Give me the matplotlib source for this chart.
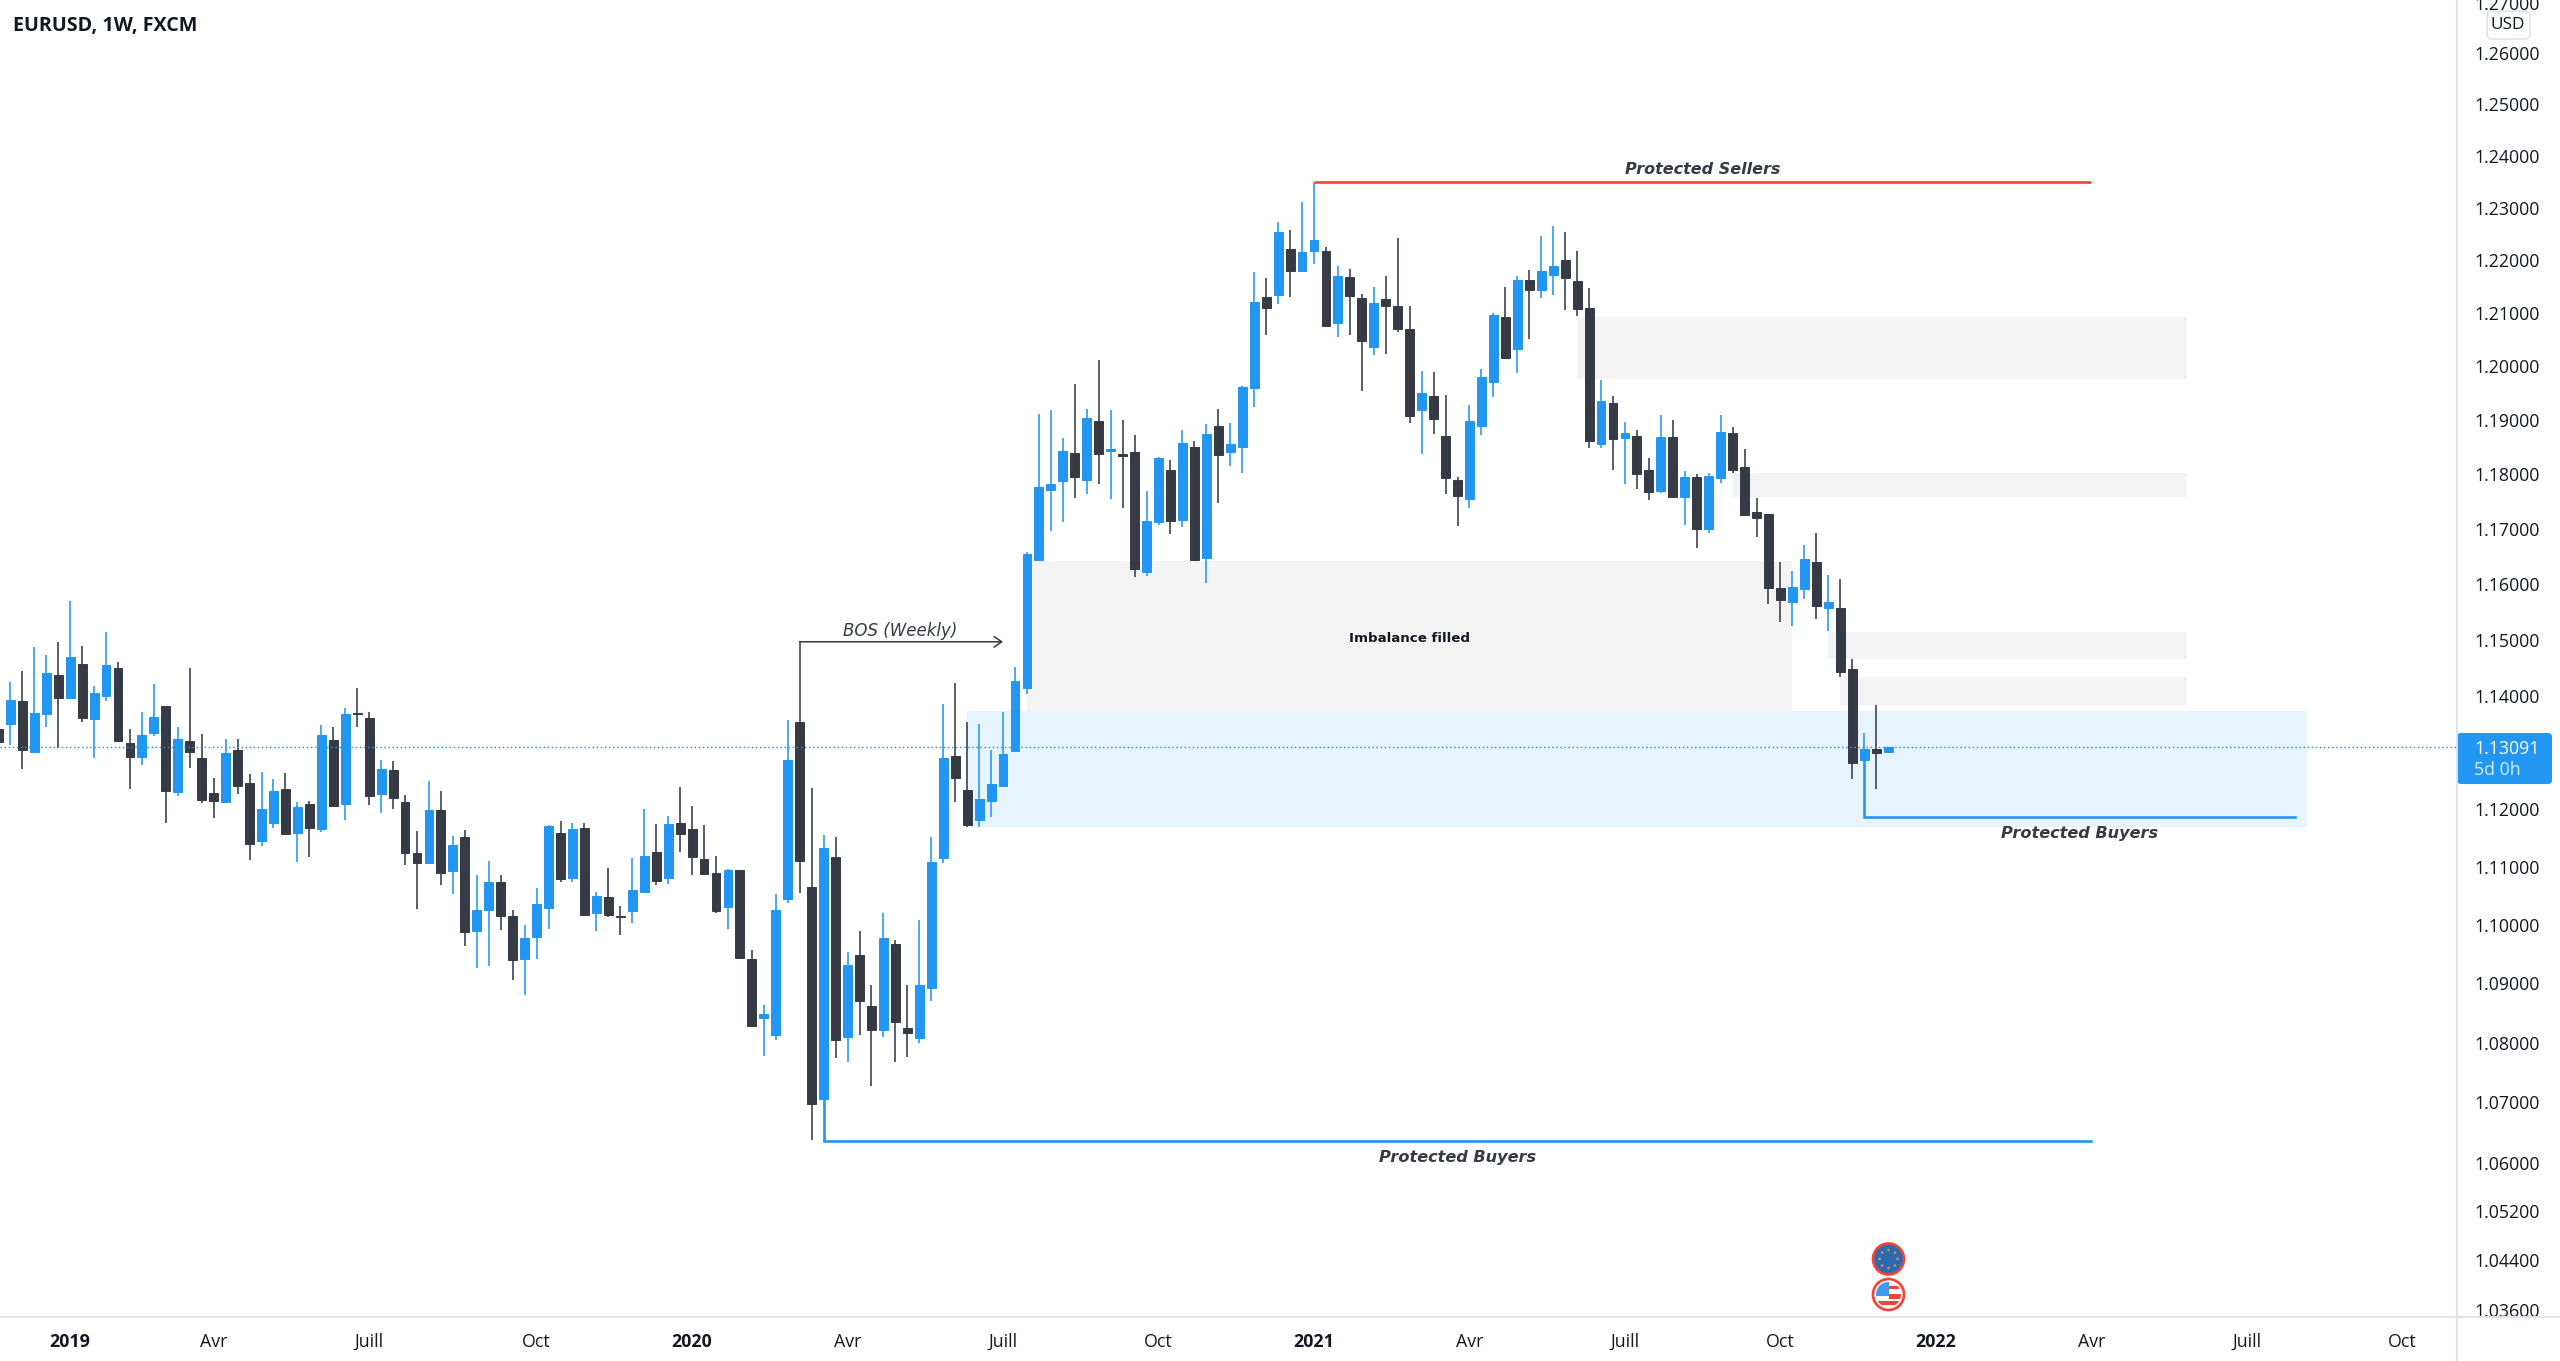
import matplotlib
matplotlib.use("Agg")
import matplotlib.pyplot as plt
from matplotlib.patches import Circle, FancyBboxPatch, Rectangle
from matplotlib.ticker import NullLocator

# ---------- Weekly EURUSD candles, one value per week (index 0 to 158) ----------
highs = [
    1.1350, 1.1424, 1.1443, 1.1487, 1.1473, 1.1496, 1.1570, 1.1489, 1.1417, 1.1513,
    1.1460, 1.1341, 1.1371, 1.1420, 1.1382, 1.1344, 1.1449, 1.1332, 1.1255, 1.1324,
    1.1324, 1.1262, 1.1265, 1.1253, 1.1263, 1.1212, 1.1215, 1.1348, 1.1344, 1.1378,
    1.1413, 1.1371, 1.1286, 1.1285, 1.1225, 1.1162, 1.1249, 1.1231, 1.1153, 1.1163,
    1.1085, 1.1110, 1.1086, 1.1025, 1.0999, 1.1063, 1.1172, 1.1180, 1.1176, 1.1176,
    1.1057, 1.1098, 1.1032, 1.1116, 1.1200, 1.1174, 1.1188, 1.1239, 1.1205, 1.1173,
    1.1119, 1.1096, 1.1095, 1.0957, 1.0864, 1.1053, 1.1356, 1.1354, 1.1237, 1.1155,
    1.1151, 1.0953, 1.0990, 1.0897, 1.1020, 1.0974, 1.0897, 1.1008, 1.1151, 1.1385,
    1.1423, 1.1354, 1.1349, 1.1303, 1.1371, 1.1451, 1.1658, 1.1911, 1.1918, 1.1866,
    1.1967, 1.1921, 1.2012, 1.1919, 1.1901, 1.1873, 1.1770, 1.1831, 1.1827, 1.1882,
    1.1861, 1.1892, 1.1920, 1.1895, 1.1963, 1.2178, 1.2167, 1.2273, 1.2257, 1.2312,
    1.2350, 1.2225, 1.2189, 1.2183, 1.2136, 1.2149, 1.2170, 1.2243, 1.2113, 1.1991,
    1.1989, 1.1947, 1.1795, 1.1928, 1.1995, 1.2100, 1.2150, 1.2171, 1.2182, 1.2246,
    1.2266, 1.2254, 1.2218, 1.2148, 1.1975, 1.1945, 1.1896, 1.1882, 1.1830, 1.1909,
    1.1901, 1.1806, 1.1801, 1.1803, 1.1909, 1.1888, 1.1846, 1.1757, 1.1728, 1.1640,
    1.1624, 1.1670, 1.1693, 1.1617, 1.1609, 1.1465, 1.1333, 1.1383, 1.1309,
]
body_tops = [
    1.1340, 1.1392, 1.1390, 1.1370, 1.1440, 1.1437, 1.1469, 1.1457, 1.1405, 1.1454,
    1.1450, 1.1316, 1.1331, 1.1362, 1.1382, 1.1324, 1.1320, 1.1289, 1.1228, 1.1299,
    1.1303, 1.1245, 1.1200, 1.1232, 1.1235, 1.1204, 1.1209, 1.1331, 1.1321, 1.1368,
    1.1370, 1.1360, 1.1270, 1.1269, 1.1212, 1.1124, 1.1198, 1.1199, 1.1138, 1.1151,
    1.1025, 1.1073, 1.1073, 1.1015, 1.0977, 1.1035, 1.1171, 1.1159, 1.1165, 1.1168,
    1.1049, 1.1047, 1.1016, 1.1060, 1.1119, 1.1125, 1.1174, 1.1176, 1.1166, 1.1114,
    1.1090, 1.1095, 1.1095, 1.0942, 1.0848, 1.1025, 1.1286, 1.1354, 1.1065, 1.1133,
    1.1117, 1.0932, 1.0949, 1.0862, 1.0978, 1.0967, 1.0825, 1.0898, 1.1108, 1.1289,
    1.1293, 1.1233, 1.1217, 1.1244, 1.1297, 1.1426, 1.1655, 1.1776, 1.1783, 1.1842,
    1.1840, 1.1904, 1.1899, 1.1846, 1.1838, 1.1841, 1.1714, 1.1830, 1.1808, 1.1858,
    1.1851, 1.1874, 1.1890, 1.1856, 1.1962, 1.2121, 1.2131, 1.2253, 1.2222, 1.2215,
    1.2239, 1.2217, 1.2171, 1.2168, 1.2129, 1.2119, 1.2126, 1.2113, 1.2070, 1.1950,
    1.1944, 1.1871, 1.1789, 1.1898, 1.1981, 1.2097, 1.2092, 1.2163, 1.2163, 1.2180,
    1.2190, 1.2200, 1.2160, 1.2109, 1.1935, 1.1932, 1.1877, 1.1871, 1.1807, 1.1868,
    1.1868, 1.1795, 1.1795, 1.1797, 1.1878, 1.1877, 1.1813, 1.1730, 1.1728, 1.1593,
    1.1595, 1.1645, 1.1639, 1.1567, 1.1557, 1.1447, 1.1306, 1.1306, 1.1309,
]
body_bottoms = [
    1.1318, 1.1350, 1.1303, 1.1300, 1.1368, 1.1396, 1.1395, 1.1360, 1.1359, 1.1399,
    1.1320, 1.1291, 1.1291, 1.1334, 1.1232, 1.1230, 1.1300, 1.1216, 1.1215, 1.1213,
    1.1240, 1.1139, 1.1145, 1.1176, 1.1156, 1.1158, 1.1168, 1.1166, 1.1206, 1.1209,
    1.1367, 1.1223, 1.1226, 1.1219, 1.1124, 1.1106, 1.1106, 1.1089, 1.1092, 1.0988,
    1.0990, 1.1025, 1.1016, 1.0940, 1.0942, 1.0980, 1.1029, 1.1079, 1.1080, 1.1017,
    1.1021, 1.1017, 1.1013, 1.1023, 1.1057, 1.1076, 1.1080, 1.1156, 1.1117, 1.1088,
    1.1023, 1.1030, 1.0943, 1.0828, 1.0841, 1.0813, 1.1044, 1.1110, 1.0697, 1.0706,
    1.0804, 1.0809, 1.0870, 1.0821, 1.0821, 1.0835, 1.0816, 1.0807, 1.0893, 1.1116,
    1.1254, 1.1172, 1.1182, 1.1215, 1.1240, 1.1302, 1.1414, 1.1643, 1.1772, 1.1787,
    1.1795, 1.1789, 1.1837, 1.1843, 1.1834, 1.1627, 1.1622, 1.1712, 1.1714, 1.1716,
    1.1643, 1.1647, 1.1835, 1.1841, 1.1851, 1.1960, 1.2109, 1.2134, 1.2179, 1.2180,
    1.2218, 1.2075, 1.2082, 1.2133, 1.2048, 1.2036, 1.2114, 1.2070, 1.1907, 1.1918,
    1.1902, 1.1793, 1.1761, 1.1755, 1.1890, 1.1971, 1.2015, 1.2032, 1.2144, 1.2143,
    1.2173, 1.2166, 1.2108, 1.1862, 1.1855, 1.1865, 1.1866, 1.1801, 1.1767, 1.1770,
    1.1759, 1.1759, 1.1700, 1.1700, 1.1793, 1.1808, 1.1725, 1.1720, 1.1592, 1.1571,
    1.1568, 1.1591, 1.1561, 1.1556, 1.1442, 1.1281, 1.1286, 1.1298, 1.1301,
]
lows = [
    1.1305, 1.1312, 1.1271, 1.1300, 1.1344, 1.1307, 1.1395, 1.1353, 1.1290, 1.1390,
    1.1320, 1.1235, 1.1277, 1.1328, 1.1176, 1.1223, 1.1273, 1.1210, 1.1185, 1.1212,
    1.1227, 1.1111, 1.1136, 1.1167, 1.1156, 1.1108, 1.1117, 1.1161, 1.1203, 1.1182,
    1.1345, 1.1207, 1.1193, 1.1200, 1.1103, 1.1027, 1.1106, 1.1068, 1.1053, 1.0964,
    1.0927, 1.0929, 1.0991, 1.0906, 1.0880, 1.0942, 1.0993, 1.1073, 1.1074, 1.1017,
    1.0990, 1.1014, 1.0982, 1.1003, 1.1054, 1.1068, 1.1071, 1.1126, 1.1086, 1.1088,
    1.1020, 1.0993, 1.0943, 1.0828, 1.0777, 1.0805, 1.1037, 1.1055, 1.0638, 1.0706,
    1.0774, 1.0768, 1.0813, 1.0728, 1.0810, 1.0767, 1.0776, 1.0800, 1.0870, 1.1107,
    1.1213, 1.1169, 1.1169, 1.1187, 1.1240, 1.1302, 1.1403, 1.1643, 1.1697, 1.1712,
    1.1756, 1.1764, 1.1783, 1.1755, 1.1739, 1.1613, 1.1615, 1.1707, 1.1690, 1.1704,
    1.1641, 1.1602, 1.1747, 1.1815, 1.1802, 1.1924, 1.2059, 1.2117, 1.2131, 1.2180,
    1.2193, 1.2075, 1.2055, 1.2059, 1.1954, 1.2021, 1.2024, 1.2064, 1.1894, 1.1837,
    1.1875, 1.1764, 1.1706, 1.1738, 1.1873, 1.1943, 1.2015, 1.1987, 1.2051, 1.2128,
    1.2134, 1.2105, 1.2094, 1.1848, 1.1849, 1.1808, 1.1783, 1.1773, 1.1753, 1.1765,
    1.1756, 1.1708, 1.1665, 1.1693, 1.1784, 1.1803, 1.1725, 1.1686, 1.1564, 1.1531,
    1.1525, 1.1572, 1.1536, 1.1515, 1.1433, 1.1252, 1.1286, 1.1236, 1.1301,
]
bull_weeks = [
    1, 3, 4, 6, 8, 9, 12, 13, 15, 19, 22, 23, 25, 27, 29, 32, 36, 38, 40, 41,
    44, 45, 46, 48, 50, 53, 54, 56, 61, 64, 65, 66, 69, 71, 74, 77, 78, 79,
    82, 83, 84, 85, 86, 87, 88, 89, 91, 93, 96, 97, 99, 101, 103, 104, 105,
    107, 109, 110, 112, 115, 119, 123, 124, 125, 127, 129, 130, 134, 136, 139,
    141, 143, 144, 150, 151, 153, 156, 158,
]

# ---------- Axis ticks ----------
price_ticks = [
    1.27, 1.26, 1.25, 1.24, 1.23, 1.22, 1.21, 1.20, 1.19, 1.18, 1.17, 1.16, 1.15,
    1.14, 1.12, 1.11, 1.10, 1.09, 1.08, 1.07, 1.06, 1.052, 1.044, 1.036,
]
time_ticks = [6, 18, 31, 45, 58, 71, 84, 97, 110, 123, 136, 149, 162, 175, 188, 201]
time_labels = ["2019", "Avr", "Juill", "Oct", "2020", "Avr", "Juill", "Oct",
               "2021", "Avr", "Juill", "Oct", "2022", "Avr", "Juill", "Oct"]
year_labels = ["2019", "2020", "2021", "2022"]

# ---------- Annotation levels ----------
last_price = 1.13091
# week start, week end, price top, price bottom
gray_zones = [
    (86, 150, 1.1642, 1.1372),
    (132, 183, 1.2093, 1.1976),
    (145, 183, 1.1803, 1.1758),
    (153, 183, 1.1514, 1.1465),
    (154, 183, 1.1433, 1.1383),
]
blue_zone = (81, 193, 1.1372, 1.1169)
sellers_level = (110, 175, 1.2350)
buyers_low_level = (69, 175, 1.0635, 1.0706)
buyers_recent_level = (156, 192, 1.1186, 1.1286)
bos_level = (67, 84, 1.1496, 1.1354)

BLUE = "#2196F3"
DARK = "#363A45"
RED = "#F44336"
GRAY_ZONE = "#F3F3F3"
BLUE_ZONE = "#E8F4FD"
BORDER = "#E0E3EB"
TEXT = "#131722"

W, H = 2560, 1361
AXIS_X, AXIS_Y = 2457, 1316.7
PX_PER_WEEK = 11.96
FIRST_WEEK_X = -1.6

plt.rcParams["font.family"] = ["Open Sans", "DejaVu Sans"]

fig = plt.figure(figsize=(W / 100, H / 100), dpi=100, facecolor="white")
ax = fig.add_axes([0, (H - AXIS_Y) / H, AXIS_X / W, AXIS_Y / H])

# ---------- Zones ----------
for left, right, top, bottom in gray_zones:
    ax.add_patch(Rectangle((left, bottom), right - left, top - bottom,
                           facecolor=GRAY_ZONE, edgecolor="none", zorder=1))
ax.add_patch(Rectangle((blue_zone[0], blue_zone[3]), blue_zone[1] - blue_zone[0],
                       blue_zone[2] - blue_zone[3],
                       facecolor=BLUE_ZONE, edgecolor="none", zorder=1.5))

# ---------- Candles ----------
weeks = list(range(len(highs)))
colors = [BLUE if w in bull_weeks else DARK for w in weeks]
ax.vlines(weeks, lows, highs, colors=colors, linewidth=1.15, zorder=3)
ax.bar(weeks, [t - b for t, b in zip(body_tops, body_bottoms)], bottom=body_bottoms,
       width=0.74, color=colors, edgecolor=colors, linewidth=0.7, zorder=4)

# ---------- Levels ----------
ax.plot(sellers_level[:2], [sellers_level[2]] * 2, color=RED, lw=1.9,
        solid_capstyle="butt", zorder=5)
ax.plot([buyers_low_level[0], buyers_low_level[0], buyers_low_level[1]],
        [buyers_low_level[3], buyers_low_level[2], buyers_low_level[2]],
        color=BLUE, lw=1.9, solid_joinstyle="miter", zorder=5)
ax.plot([buyers_recent_level[0], buyers_recent_level[0], buyers_recent_level[1]],
        [buyers_recent_level[3], buyers_recent_level[2], buyers_recent_level[2]],
        color=BLUE, lw=1.9, solid_joinstyle="miter", zorder=5)
ax.plot([bos_level[0], bos_level[0]], [bos_level[3], bos_level[2]],
        color=DARK, lw=1.1, zorder=5)
ax.annotate("", xy=(bos_level[1], bos_level[2]), xytext=(bos_level[0], bos_level[2]),
            arrowprops=dict(arrowstyle="->,head_length=0.55,head_width=0.38",
                            color=DARK, lw=1.1, shrinkA=0, shrinkB=0), zorder=5)
ax.axhline(last_price, color=BLUE, lw=1.05, linestyle=(0, (1, 1.8)), zorder=6)

# ---------- Labels on the chart ----------
note_font = ["DejaVu Sans"]
ax.text(142.5, 1.2374, "Protected Sellers", family=note_font, fontsize=11.5,
        weight="bold", style="italic", color=DARK, ha="center", va="center", zorder=7)
ax.text(122, 1.0608, "Protected Buyers", family=note_font, fontsize=11.6,
        weight="bold", style="italic", color=DARK, ha="center", va="center", zorder=7)
ax.text(174, 1.1158, "Protected Buyers", family=note_font, fontsize=11.6,
        weight="bold", style="italic", color=DARK, ha="center", va="center", zorder=7)
ax.text(75.4, 1.1516, "BOS (Weekly)", family=note_font, fontsize=12,
        style="italic", color=DARK, ha="center", va="center", zorder=7)
ax.text(118, 1.1501, "Imbalance filled", family=note_font, fontsize=9.65,
        weight="bold", color=TEXT, ha="center", va="center", zorder=7)

# ---------- Axes ----------
ax.set_xlim((0 - FIRST_WEEK_X) / PX_PER_WEEK, (AXIS_X - FIRST_WEEK_X) / PX_PER_WEEK)
ax.set_yscale("log")
ax.set_ylim(1.03485, 1.2705)
ax.yaxis.tick_right()
ax.set_yticks(price_ticks)
ax.set_yticklabels([f"{p:.5f}" for p in price_ticks])
ax.yaxis.set_minor_locator(NullLocator())
ax.set_xticks(time_ticks)
ax.set_xticklabels(time_labels)
ax.tick_params(axis="y", length=0, pad=12.2, labelsize=12.8, labelcolor=TEXT)
ax.tick_params(axis="x", length=0, pad=11.5, labelsize=12.8, labelcolor=TEXT)
for label in ax.get_xticklabels():
    if label.get_text() in year_labels:
        label.set_fontweight("bold")
for spine in ax.spines.values():
    spine.set_visible(False)

# ---------- Window furniture, drawn in pixel space ----------
ui = fig.add_axes([0, 0, 1, 1], zorder=10)
ui.set_xlim(0, W)
ui.set_ylim(H, 0)
ui.axis("off")
ui.patch.set_alpha(0)

ui.plot([AXIS_X, AXIS_X], [0, H], color=BORDER, lw=1.4)
ui.plot([0, W], [AXIS_Y, AXIS_Y], color=BORDER, lw=1.4)

ui.text(13, 26, "EURUSD, 1W, FXCM", fontsize=14.2, weight="bold", color=TEXT,
        ha="left", va="center")

# price tag
ui.add_patch(FancyBboxPatch((AXIS_X + 3, 736), W - AXIS_X - 14, 45,
                            boxstyle="round,pad=3,rounding_size=4",
                            facecolor=BLUE, edgecolor="none"))
ui.text(2474, 748.5, f"{last_price:.5f}", fontsize=12.8, color="white", ha="left", va="center")
ui.text(2474, 770, "5d 0h", fontsize=12.8, color="#D6ECFD", ha="left", va="center")

# currency tag
ui.add_patch(FancyBboxPatch((2490, 14), 37, 22, boxstyle="round,pad=3,rounding_size=5",
                            facecolor="white", edgecolor=BORDER, lw=1.2))
ui.text(2508, 24.5, "USD", fontsize=12.4, color=TEXT, ha="center", va="center")

# economic event badges
ICON_X, EU_Y, US_Y = 1888.5, 1259, 1294.5
ui.add_patch(Circle((ICON_X, EU_Y), 15.5, facecolor="#2B6CB0", edgecolor=RED, lw=1.9))
star_offsets = [(0, -9), (6.4, -6.4), (9, 0), (6.4, 6.4), (0, 9), (-6.4, 6.4), (-9, 0), (-6.4, -6.4)]
for dx, dy in star_offsets:
    ui.add_patch(Circle((ICON_X + dx, EU_Y + dy), 1.3, facecolor="#E08A4A", edgecolor="none"))

ui.add_patch(Circle((ICON_X, US_Y), 15.5, facecolor="white", edgecolor=RED, lw=1.9))
clip = Circle((ICON_X, US_Y), 12.5, transform=ui.transData)
canton = ui.add_patch(Rectangle((ICON_X - 13, US_Y - 13), 13, 14, facecolor="#3F9BEF", edgecolor="none"))
stripe_a = ui.add_patch(Rectangle((ICON_X, US_Y - 9), 13, 3.5, facecolor=RED, edgecolor="none"))
stripe_b = ui.add_patch(Rectangle((ICON_X, US_Y - 1), 13, 5, facecolor=RED, edgecolor="none"))
stripe_c = ui.add_patch(Rectangle((ICON_X - 13, US_Y + 6), 26, 4, facecolor=RED, edgecolor="none"))
for patch in (canton, stripe_a, stripe_b, stripe_c):
    patch.set_clip_path(clip)

fig.savefig("out.png", dpi=100)
plt.close(fig)
